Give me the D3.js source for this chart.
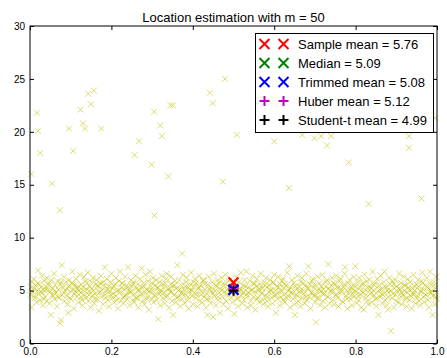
<!DOCTYPE html>
<html><head><meta charset="utf-8">
<script src="https://cdn.jsdelivr.net/npm/d3@7"></script>
<style>html,body{margin:0;padding:0;background:#fff}svg{display:block}</style>
</head><body><svg id="c" width="447" height="358"></svg>
<script>
// ---- data ----
const title = "Location estimation with m = 50";
const xTicks = [0, 0.2, 0.4, 0.6, 0.8, 1.0];
const yTicks = [0, 5, 10, 15, 20, 25, 30];
// outliers [x, y]
const outlierPoints = [[.017,21.8],[.020,20.1],[.025,18.0],[.003,16.0],[.054,15.1],[.073,12.6],[.096,20.3],[.106,18.2],[.130,20.8],[.135,20.3],[.124,22.1],[.143,23.6],[.157,23.9],[.150,22.6],[.175,20.3],[.257,17.8],[.268,19.1],[.299,16.9],[.305,21.9],[.320,20.6],[.324,19.6],[.340,15.8],[.345,22.5],[.351,22.5],[.306,12.1],[.374,8.5],[.479,25.0],[.442,23.7],[.449,22.7],[.508,19.7],[.474,15.3],[.600,19.1],[.636,14.7],[.669,19.7],[.699,19.4],[.715,19.6],[.740,19.6],[.730,18.7],[.783,17.1],[.832,13.2],[.931,19.6],[.931,18.5],[.962,13.7],[.996,21.3]];
// main band [x, y]
const bandPoints = [
[.001,4.6],[.004,3.4],[.005,5.8],[.007,4.9],[.009,6.1],[.010,5.2],[.012,4.3],[.014,5.5],[.016,3.9],[.018,5.0],[.020,6.9],[.021,4.7],[.023,5.6],[.025,4.1],[.027,5.3],[.029,6.4],[.030,4.8],[.032,3.6],[.034,5.1],[.035,5.9],
[.037,4.4],[.039,5.4],[.041,6.2],[.042,4.0],[.044,5.0],[.046,5.7],[.048,3.8],[.050,4.9],[.051,2.7],[.053,6.0],[.055,5.2],[.057,4.5],[.059,6.6],[.060,4.2],[.062,5.5],[.064,4.8],[.066,3.5],[.068,5.9],[.070,5.1],[.072,4.3],
[.074,1.9],[.075,5.6],[.076,2.2],[.078,7.4],[.079,4.6],[.081,5.3],[.083,6.3],[.085,4.0],[.086,5.0],[.088,5.8],[.090,4.5],[.092,3.7],[.094,2.9],[.095,5.4],[.097,6.0],[.099,4.9],[.101,4.2],[.102,5.7],[.104,6.8],[.106,5.1],
[.108,3.3],[.110,4.7],[.111,5.5],[.113,6.1],[.115,4.4],[.117,5.2],[.119,3.9],[.120,5.0],[.122,6.5],[.124,4.8],[.126,5.6],[.128,4.1],[.129,3.6],[.131,5.3],[.133,6.3],[.135,4.6],[.137,5.9],[.138,4.3],[.140,5.1],[.142,6.7],
[.144,4.0],[.146,5.4],[.147,4.9],[.149,3.4],[.151,5.8],[.153,4.5],[.155,6.2],[.156,5.0],[.158,3.8],[.160,4.7],[.162,5.6],[.164,6.0],[.165,4.2],[.167,5.3],[.169,3.1],[.171,4.8],[.173,5.7],[.174,6.4],[.176,4.4],[.178,5.1],
[.180,3.7],[.182,5.5],[.184,7.2],[.185,4.6],[.187,5.0],[.189,6.1],[.191,4.1],[.193,5.4],[.194,3.5],[.196,4.9],[.198,5.8],[.200,6.6],[.202,4.3],[.203,5.2],[.205,4.7],[.207,3.9],[.209,5.6],[.211,6.2],[.212,4.5],[.214,5.0],
[.216,3.3],[.218,5.9],[.220,4.8],[.221,6.8],[.223,4.0],[.225,5.3],[.227,5.7],[.229,4.4],[.230,3.8],[.232,5.1],[.234,6.3],[.236,4.6],[.238,5.5],[.239,4.2],[.241,7.2],[.243,5.0],[.245,3.6],[.247,4.9],[.248,6.0],[.250,5.4],
[.252,4.1],[.254,5.8],[.256,3.9],[.257,4.7],[.259,6.4],[.261,5.2],[.263,4.3],[.265,5.6],[.266,3.4],[.268,5.0],[.270,6.1],[.272,4.5],[.274,7.1],[.275,5.3],[.277,4.0],[.279,5.7],[.281,3.7],[.283,4.8],[.284,6.5],[.286,5.1],
[.288,4.4],[.290,5.9],[.292,3.2],[.293,4.9],[.295,6.8],[.297,5.4],[.299,4.2],[.301,5.0],[.302,6.2],[.304,3.9],[.306,4.6],[.308,5.5],[.310,6.0],[.311,4.1],[.313,5.2],[.315,2.3],[.317,4.7],[.319,5.8],[.320,3.6],[.322,5.0],
[.324,6.4],[.326,4.3],[.328,5.3],[.329,4.8],[.331,3.8],[.333,5.7],[.335,6.1],[.336,6.6],[.338,4.5],[.340,5.1],[.342,3.4],[.344,4.9],[.346,5.6],[.347,6.3],[.349,4.0],[.351,5.4],[.352,2.7],[.354,4.6],[.356,5.9],[.358,3.9],
[.360,5.2],[.362,7.4],[.363,4.4],[.365,5.0],[.367,6.0],[.369,3.5],[.371,4.8],[.372,5.5],[.374,4.2],[.376,6.5],[.378,5.1],[.380,3.8],[.381,4.7],[.383,5.8],[.385,6.2],[.387,4.1],[.389,5.3],[.390,3.3],[.392,4.9],[.394,5.6],
[.396,6.7],[.398,4.5],[.399,5.0],[.401,3.7],[.403,5.4],[.405,6.1],[.407,4.3],[.408,5.7],[.410,4.8],[.412,3.5],[.414,5.2],[.416,6.4],[.417,4.0],[.419,5.5],[.421,4.6],[.423,3.9],[.425,5.9],[.426,6.0],[.428,4.4],[.430,5.1],
[.432,3.4],[.434,4.7],[.436,2.7],[.437,5.6],[.439,6.3],[.441,4.2],[.443,5.3],[.444,3.8],[.446,4.9],[.448,5.8],[.450,2.5],[.452,6.6],[.453,4.5],[.455,5.0],[.457,3.6],[.459,5.4],[.461,6.0],[.462,4.1],[.464,5.7],[.466,4.8],
[.467,2.9],[.469,5.2],[.471,6.2],[.473,4.4],[.475,3.7],[.477,5.5],[.479,4.9],[.480,6.5],[.482,4.0],[.484,5.1],[.486,3.3],[.488,5.9],[.489,4.6],[.491,5.3],[.493,6.1],[.495,4.3],[.497,3.9],[.498,5.0],[.500,5.6],[.502,2.8],
[.504,4.7],[.506,5.4],[.507,6.3],[.509,4.2],[.511,3.5],[.513,5.8],[.515,4.9],[.516,5.2],[.518,6.7],[.520,4.5],[.522,3.8],[.524,5.5],[.525,4.1],[.527,6.0],[.529,5.0],[.531,4.6],[.532,6.8],[.534,3.4],[.536,5.3],[.538,4.8],
[.540,5.9],[.542,4.0],[.543,3.6],[.545,5.1],[.547,6.4],[.549,4.4],[.551,5.7],[.553,4.9],[.554,3.2],[.556,5.4],[.558,6.1],[.560,4.3],[.561,5.0],[.563,3.9],[.565,5.6],[.567,6.6],[.569,4.7],[.571,5.2],[.572,4.1],[.574,3.7],
[.576,5.8],[.578,4.5],[.580,6.2],[.582,5.3],[.583,4.0],[.585,3.5],[.587,5.5],[.589,4.8],[.590,6.0],[.592,5.1],[.594,4.3],[.596,3.8],[.598,5.7],[.600,6.5],[.601,4.6],[.603,5.0],[.604,2.9],[.606,5.4],[.608,4.2],[.610,6.3],
[.612,4.9],[.614,3.6],[.615,5.6],[.617,4.4],[.619,5.9],[.621,6.1],[.622,4.1],[.624,5.2],[.626,3.9],[.628,4.7],[.630,5.5],[.632,6.7],[.633,4.5],[.635,5.0],[.637,7.3],[.639,3.4],[.640,5.3],[.642,4.8],[.644,6.0],[.646,4.2],
[.648,5.7],[.650,3.7],[.651,2.7],[.653,4.6],[.655,5.1],[.657,6.4],[.659,4.0],[.661,5.4],[.662,4.9],[.664,3.5],[.666,5.8],[.668,6.2],[.669,4.3],[.671,5.0],[.673,4.7],[.675,3.8],[.677,5.5],[.679,6.6],[.680,4.1],[.682,5.2],
[.684,7.3],[.686,4.4],[.687,5.6],[.689,3.3],[.691,4.8],[.693,5.9],[.695,6.1],[.697,4.5],[.698,5.3],[.700,3.9],[.702,4.6],[.703,2.0],[.705,5.0],[.707,6.3],[.709,4.2],[.711,5.7],[.713,3.6],[.714,4.9],[.716,5.4],[.718,6.5],
[.720,4.0],[.722,5.1],[.723,4.7],[.725,3.4],[.727,5.8],[.729,6.0],[.731,4.4],[.733,7.5],[.734,5.2],[.736,3.8],[.738,4.9],[.740,5.5],[.742,6.2],[.744,4.1],[.745,5.0],[.747,3.7],[.749,5.6],[.751,4.6],[.753,6.4],[.754,5.3],
[.756,4.3],[.758,3.5],[.760,5.9],[.762,4.8],[.763,6.1],[.765,5.1],[.767,4.0],[.769,3.9],[.771,5.4],[.773,6.6],[.774,7.2],[.776,4.5],[.778,5.0],[.780,3.3],[.782,5.7],[.784,4.7],[.785,6.0],[.787,4.2],[.789,5.2],[.791,3.6],
[.793,5.5],[.795,6.3],[.796,4.4],[.798,5.0],[.799,7.3],[.801,4.9],[.803,3.8],[.805,5.8],[.807,4.1],[.809,6.2],[.811,5.3],[.812,4.6],[.814,3.4],[.816,5.6],[.818,4.8],[.820,3.2],[.822,6.5],[.823,5.1],[.825,4.3],[.827,5.9],
[.829,4.0],[.831,3.7],[.833,5.4],[.834,6.0],[.836,4.7],[.838,5.2],[.840,3.9],[.842,6.8],[.844,4.5],[.845,5.0],[.847,5.7],[.849,4.2],[.851,3.5],[.853,6.1],[.855,4.9],[.856,2.7],[.858,5.5],[.860,4.4],[.862,6.4],[.864,5.1],
[.866,3.8],[.867,4.6],[.869,5.8],[.871,6.8],[.873,4.1],[.875,5.3],[.877,3.6],[.878,5.0],[.879,3.2],[.881,4.8],[.883,6.2],[.885,5.6],[.887,1.2],[.889,4.3],[.890,5.9],[.892,4.7],[.894,3.4],[.896,5.2],[.898,6.0],[.900,4.0],
[.901,5.4],[.903,4.9],[.905,3.9],[.907,6.6],[.909,5.1],[.911,4.4],[.912,5.7],[.914,3.7],[.916,4.6],[.918,6.3],[.920,5.0],[.922,4.2],[.923,5.5],[.925,3.5],[.927,4.8],[.929,6.1],[.931,5.3],[.933,4.1],[.934,5.8],[.936,4.5],
[.938,3.3],[.940,5.2],[.942,6.5],[.944,4.7],[.945,5.0],[.947,3.8],[.949,5.6],[.951,4.3],[.953,6.0],[.955,5.4],[.956,4.0],[.958,3.6],[.960,4.9],[.962,5.9],[.964,6.7],[.966,4.4],[.967,5.1],[.969,3.9],[.971,5.5],[.973,4.6],
[.975,6.2],[.977,5.3],[.978,4.1],[.980,3.4],[.982,5.7],[.983,6.8],[.985,4.8],[.987,5.0],[.989,2.7],[.990,4.5],[.992,5.8],[.994,3.7],[.996,5.2],[.998,6.3],[.999,4.2]
];
// extra band points (dense core of the band)
const bandCorePoints = [
[.003,5.3],[.011,4.5],[.019,5.7],[.026,4.9],[.033,4.2],[.040,5.1],[.047,5.5],[.054,4.6],[.061,5.0],[.069,4.4],[.077,5.8],[.084,4.8],[.091,5.2],[.098,4.3],[.105,5.6],[.112,4.9],[.118,5.4],[.125,4.4],[.132,5.0],[.139,5.7],
[.145,4.6],[.152,5.2],[.159,4.2],[.166,5.5],[.172,4.9],[.179,5.8],[.186,4.3],[.192,5.1],[.199,4.6],[.206,5.4],[.213,4.1],[.219,5.0],[.226,5.7],[.233,4.5],[.240,5.3],[.246,4.8],[.253,5.6],[.260,4.3],[.267,5.1],[.273,4.7],
[.280,5.4],[.287,4.2],[.294,5.0],[.300,5.7],[.307,4.5],[.314,5.3],[.321,4.8],[.327,5.6],[.334,4.4],[.341,5.2],[.348,4.9],[.355,5.5],[.361,4.3],[.368,5.1],[.375,4.7],[.382,5.4],[.388,4.4],[.395,5.0],[.402,5.8],[.409,4.6],
[.415,5.3],[.422,4.9],[.429,5.6],[.435,4.2],[.442,5.1],[.449,4.7],[.456,5.5],[.463,4.4],[.470,5.0],[.476,5.7],[.483,4.6],[.490,5.3],[.496,4.8],[.503,5.5],[.510,4.3],[.517,5.1],[.523,4.8],[.530,5.4],[.537,4.5],[.544,5.0],
[.550,5.6],[.557,4.2],[.564,5.2],[.570,4.8],[.577,5.5],[.584,4.4],[.591,5.0],[.597,5.8],[.605,4.6],[.611,5.3],[.618,4.9],[.625,5.6],[.631,4.3],[.638,5.1],[.645,4.7],[.652,5.4],[.658,4.5],[.665,5.0],[.672,5.7],[.678,4.4],
[.685,5.2],[.692,4.8],[.699,5.5],[.706,4.3],[.712,5.1],[.719,4.7],[.726,5.4],[.732,4.4],[.739,5.0],[.746,5.7],[.752,4.6],[.759,5.3],[.766,4.9],[.772,5.6],[.779,4.2],[.786,5.1],[.792,4.7],[.800,5.4],[.806,4.5],[.813,5.0],
[.819,5.7],[.826,4.6],[.832,5.2],[.839,4.8],[.846,5.5],[.852,4.3],[.859,5.1],[.865,4.7],[.872,5.4],[.880,4.4],[.886,5.0],[.893,5.6],[.899,4.6],[.906,5.2],[.913,4.8],[.919,5.5],[.926,4.3],[.932,5.1],[.939,4.7],[.946,5.4],
[.952,4.5],[.959,5.0],[.965,5.7],[.972,4.6],[.979,5.2],[.986,4.8],[.993,5.5],[.997,4.4]
];
const estimatorNames = ["Sample mean", "Median", "Trimmed mean", "Huber mean", "Student-t mean"];
const estimatorValues = [5.76, 5.09, 5.08, 5.12, 4.99];
const estimatorColors = ["#ff0000", "#008000", "#0000ff", "#bf00bf", "#000000"];
const estimatorMarkers = ["x", "x", "x", "+", "+"];
const estimatorX = 0.5;

// ---- layout ----
const svg = d3.select("#c");
const L = 30, R = 437, T = 26, B = 343.5;
const x = d3.scaleLinear().domain([0, 1]).range([L, R]);
const y = d3.scaleLinear().domain([0, 30]).range([B, T]);
const font = "'Liberation Sans', Arial, Helvetica, sans-serif";

function markerPath(type, s) {
  return type === "x"
    ? `M${-s},${-s}L${s},${s}M${-s},${s}L${s},${-s}`
    : `M${-s},0L${s},0M0,${-s}L0,${s}`;
}

const plot = svg.append("g");
const allPts = outlierPoints.concat(bandPoints, bandCorePoints);
plot.selectAll("path.pt").data(allPts).join("path")
  .attr("class", "pt")
  .attr("transform", d => `translate(${x(d[0])},${y(d[1])})`)
  .attr("d", markerPath("x", 3))
  .attr("fill", "none").attr("stroke", "#bfbf00").attr("stroke-opacity", 0.55).attr("stroke-width", 1);

plot.selectAll("path.est").data(estimatorValues).join("path")
  .attr("class", "est")
  .attr("transform", d => `translate(${x(estimatorX)},${y(d)})`)
  .attr("d", (d, i) => markerPath(estimatorMarkers[i], 5))
  .attr("fill", "none").attr("stroke", (d, i) => estimatorColors[i]).attr("stroke-width", 2);

// axes
const axB = d3.axisBottom(x).tickValues(xTicks).tickFormat(d3.format(".1f")).tickSizeInner(-4).tickSizeOuter(0).tickPadding(4.5);
const axT = d3.axisTop(x).tickValues(xTicks).tickFormat("").tickSizeInner(-4).tickSizeOuter(0);
const axL = d3.axisLeft(y).tickValues(yTicks).tickFormat(d3.format("d")).tickSizeInner(-4).tickSizeOuter(0).tickPadding(5);
const axR = d3.axisRight(y).tickValues(yTicks).tickFormat("").tickSizeInner(-4).tickSizeOuter(0);
function style(g) {
  g.select(".domain").remove();
  g.selectAll("text").attr("font-family", font).attr("font-size", 10).attr("fill", "#000");
  g.selectAll("line").attr("stroke", "#000");
}
svg.append("g").attr("transform", `translate(0,${B})`).call(axB).call(style);
svg.append("g").attr("transform", `translate(0,${T})`).call(axT).call(style);
svg.append("g").attr("transform", `translate(${L},0)`).call(axL).call(style);
svg.append("g").attr("transform", `translate(${R},0)`).call(axR).call(style);
svg.append("rect").attr("x", L).attr("y", T).attr("width", R - L).attr("height", B - T)
  .attr("fill", "none").attr("stroke", "#000").attr("stroke-width", 1);

svg.append("text").attr("x", (L + R) / 2).attr("y", 22).attr("text-anchor", "middle")
  .attr("font-family", font).attr("font-size", 13).text(title);

// legend
const lg = svg.append("g");
lg.append("rect").attr("x", 255.5).attr("y", 33.5).attr("width", 178).attr("height", 99)
  .attr("fill", "#fff").attr("stroke", "#000").attr("stroke-width", 1);
estimatorNames.forEach((n, i) => {
  const ry = 44 + i * 19;
  [264.5, 283.5].forEach(mx => {
    lg.append("path").attr("transform", `translate(${mx},${ry})`)
      .attr("d", markerPath(estimatorMarkers[i], 5))
      .attr("fill", "none").attr("stroke", estimatorColors[i]).attr("stroke-width", 2);
  });
  lg.append("text").attr("x", 298).attr("y", ry + 4.5)
    .attr("font-family", font).attr("font-size", 13)
    .text(`${n} = ${estimatorValues[i].toFixed(2)}`);
});
</script>
</body></html>
